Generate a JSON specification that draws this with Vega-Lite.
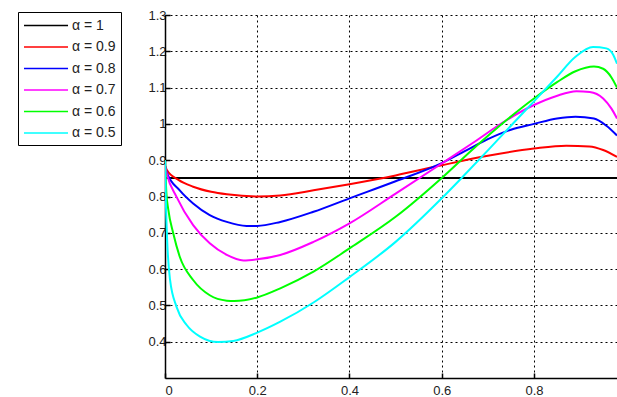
{
  "$schema": "https://vega.github.io/schema/vega-lite/v6.json",
  "width": 452,
  "height": 363,
  "autosize": {"type": "none"},
  "padding": {"left": 165, "top": 15, "right": 0, "bottom": 19},
  "background": "white",
  "config": {
    "view": {"stroke": null},
    "axis": {
      "grid": true,
      "gridColor": "#000000",
      "gridDash": [2, 3],
      "gridOpacity": 1,
      "gridWidth": 1,
      "domainColor": "#000000",
      "domainWidth": 1.5,
      "tickColor": "#000000",
      "tickSize": -5,
      "tickWidth": 1.5,
      "labelFont": "Liberation Sans",
      "labelFontSize": 13,
      "labelColor": "#222222",
      "title": null
    }
  },
  "data": {
    "values": [
      {"s": "α = 1", "x": 0, "y": 0.851},
      {"s": "α = 1", "x": 0.98, "y": 0.851},

      {"s": "α = 0.9", "x": 0, "y": 0.885},
      {"s": "α = 0.9", "x": 0.004, "y": 0.873},
      {"s": "α = 0.9", "x": 0.03, "y": 0.845},
      {"s": "α = 0.9", "x": 0.061, "y": 0.827},
      {"s": "α = 0.9", "x": 0.1, "y": 0.813},
      {"s": "α = 0.9", "x": 0.134, "y": 0.806},
      {"s": "α = 0.9", "x": 0.2, "y": 0.800},
      {"s": "α = 0.9", "x": 0.25, "y": 0.803},
      {"s": "α = 0.9", "x": 0.322, "y": 0.817},
      {"s": "α = 0.9", "x": 0.4, "y": 0.834},
      {"s": "α = 0.9", "x": 0.5, "y": 0.858},
      {"s": "α = 0.9", "x": 0.6, "y": 0.886},
      {"s": "α = 0.9", "x": 0.7, "y": 0.912},
      {"s": "α = 0.9", "x": 0.8, "y": 0.932},
      {"s": "α = 0.9", "x": 0.87, "y": 0.940},
      {"s": "α = 0.9", "x": 0.92, "y": 0.938},
      {"s": "α = 0.9", "x": 0.95, "y": 0.928},
      {"s": "α = 0.9", "x": 0.98, "y": 0.909},

      {"s": "α = 0.8", "x": 0, "y": 0.885},
      {"s": "α = 0.8", "x": 0.004, "y": 0.866},
      {"s": "α = 0.8", "x": 0.032, "y": 0.817},
      {"s": "α = 0.8", "x": 0.061, "y": 0.781},
      {"s": "α = 0.8", "x": 0.097, "y": 0.749},
      {"s": "α = 0.8", "x": 0.134, "y": 0.730},
      {"s": "α = 0.8", "x": 0.177, "y": 0.719},
      {"s": "α = 0.8", "x": 0.2, "y": 0.719},
      {"s": "α = 0.8", "x": 0.25, "y": 0.730},
      {"s": "α = 0.8", "x": 0.322, "y": 0.758},
      {"s": "α = 0.8", "x": 0.4, "y": 0.795},
      {"s": "α = 0.8", "x": 0.5, "y": 0.842},
      {"s": "α = 0.8", "x": 0.6, "y": 0.892},
      {"s": "α = 0.8", "x": 0.65, "y": 0.925},
      {"s": "α = 0.8", "x": 0.7, "y": 0.958},
      {"s": "α = 0.8", "x": 0.75, "y": 0.984},
      {"s": "α = 0.8", "x": 0.8, "y": 1.000},
      {"s": "α = 0.8", "x": 0.85, "y": 1.015},
      {"s": "α = 0.8", "x": 0.89, "y": 1.020},
      {"s": "α = 0.8", "x": 0.93, "y": 1.015},
      {"s": "α = 0.8", "x": 0.957, "y": 0.995},
      {"s": "α = 0.8", "x": 0.98, "y": 0.968},

      {"s": "α = 0.7", "x": 0, "y": 0.885},
      {"s": "α = 0.7", "x": 0.004, "y": 0.862},
      {"s": "α = 0.7", "x": 0.025, "y": 0.799},
      {"s": "α = 0.7", "x": 0.061, "y": 0.721},
      {"s": "α = 0.7", "x": 0.097, "y": 0.671},
      {"s": "α = 0.7", "x": 0.134, "y": 0.639},
      {"s": "α = 0.7", "x": 0.17, "y": 0.624},
      {"s": "α = 0.7", "x": 0.2, "y": 0.627},
      {"s": "α = 0.7", "x": 0.25, "y": 0.639},
      {"s": "α = 0.7", "x": 0.322, "y": 0.675},
      {"s": "α = 0.7", "x": 0.4, "y": 0.726},
      {"s": "α = 0.7", "x": 0.5, "y": 0.808},
      {"s": "α = 0.7", "x": 0.6, "y": 0.891},
      {"s": "α = 0.7", "x": 0.668, "y": 0.948},
      {"s": "α = 0.7", "x": 0.74, "y": 1.010},
      {"s": "α = 0.7", "x": 0.8, "y": 1.052},
      {"s": "α = 0.7", "x": 0.849, "y": 1.077},
      {"s": "α = 0.7", "x": 0.892, "y": 1.090},
      {"s": "α = 0.7", "x": 0.921, "y": 1.088},
      {"s": "α = 0.7", "x": 0.95, "y": 1.070},
      {"s": "α = 0.7", "x": 0.968, "y": 1.042},
      {"s": "α = 0.7", "x": 0.98, "y": 1.015},

      {"s": "α = 0.6", "x": 0, "y": 0.9},
      {"s": "α = 0.6", "x": 0.003, "y": 0.81},
      {"s": "α = 0.6", "x": 0.007, "y": 0.765},
      {"s": "α = 0.6", "x": 0.018, "y": 0.698},
      {"s": "α = 0.6", "x": 0.032, "y": 0.634},
      {"s": "α = 0.6", "x": 0.061, "y": 0.570},
      {"s": "α = 0.6", "x": 0.097, "y": 0.528},
      {"s": "α = 0.6", "x": 0.134, "y": 0.513},
      {"s": "α = 0.6", "x": 0.15, "y": 0.512},
      {"s": "α = 0.6", "x": 0.2, "y": 0.522},
      {"s": "α = 0.6", "x": 0.25, "y": 0.547},
      {"s": "α = 0.6", "x": 0.322, "y": 0.593},
      {"s": "α = 0.6", "x": 0.4, "y": 0.657},
      {"s": "α = 0.6", "x": 0.5, "y": 0.744},
      {"s": "α = 0.6", "x": 0.6, "y": 0.851},
      {"s": "α = 0.6", "x": 0.668, "y": 0.931},
      {"s": "α = 0.6", "x": 0.74, "y": 1.010},
      {"s": "α = 0.6", "x": 0.8, "y": 1.070},
      {"s": "α = 0.6", "x": 0.85, "y": 1.115},
      {"s": "α = 0.6", "x": 0.89, "y": 1.145},
      {"s": "α = 0.6", "x": 0.93, "y": 1.158},
      {"s": "α = 0.6", "x": 0.95, "y": 1.152},
      {"s": "α = 0.6", "x": 0.968, "y": 1.128},
      {"s": "α = 0.6", "x": 0.98, "y": 1.100},

      {"s": "α = 0.5", "x": 0, "y": 0.9},
      {"s": "α = 0.5", "x": 0.002, "y": 0.78},
      {"s": "α = 0.5", "x": 0.005, "y": 0.67},
      {"s": "α = 0.5", "x": 0.011, "y": 0.57},
      {"s": "α = 0.5", "x": 0.025, "y": 0.496},
      {"s": "α = 0.5", "x": 0.047, "y": 0.446},
      {"s": "α = 0.5", "x": 0.076, "y": 0.414},
      {"s": "α = 0.5", "x": 0.115, "y": 0.399},
      {"s": "α = 0.5", "x": 0.148, "y": 0.402},
      {"s": "α = 0.5", "x": 0.2, "y": 0.425},
      {"s": "α = 0.5", "x": 0.25, "y": 0.455},
      {"s": "α = 0.5", "x": 0.322, "y": 0.508},
      {"s": "α = 0.5", "x": 0.4, "y": 0.578},
      {"s": "α = 0.5", "x": 0.5, "y": 0.675},
      {"s": "α = 0.5", "x": 0.6, "y": 0.795},
      {"s": "α = 0.5", "x": 0.643, "y": 0.851},
      {"s": "α = 0.5", "x": 0.7, "y": 0.927},
      {"s": "α = 0.5", "x": 0.75, "y": 0.995},
      {"s": "α = 0.5", "x": 0.8, "y": 1.062},
      {"s": "α = 0.5", "x": 0.85, "y": 1.130},
      {"s": "α = 0.5", "x": 0.89, "y": 1.185},
      {"s": "α = 0.5", "x": 0.928, "y": 1.212},
      {"s": "α = 0.5", "x": 0.957, "y": 1.208},
      {"s": "α = 0.5", "x": 0.972, "y": 1.190},
      {"s": "α = 0.5", "x": 0.98, "y": 1.166}
    ]
  },
  "mark": {"type": "line", "interpolate": "monotone", "strokeWidth": 2, "clip": true},
  "encoding": {
    "x": {
      "field": "x", "type": "quantitative",
      "scale": {"domain": [0, 0.98], "nice": false, "zero": false},
      "axis": {"values": [0, 0.2, 0.4, 0.6, 0.8], "format": "~g", "labelPadding": 11}
    },
    "y": {
      "field": "y", "type": "quantitative",
      "scale": {"domain": [0.3, 1.3], "nice": false, "zero": false},
      "axis": {"values": [0.4, 0.5, 0.6, 0.7, 0.8, 0.9, 1, 1.1, 1.2, 1.3], "format": "~g", "labelPadding": 4}
    },
    "color": {
      "field": "s", "type": "nominal",
      "scale": {
        "domain": ["α = 1", "α = 0.9", "α = 0.8", "α = 0.7", "α = 0.6", "α = 0.5"],
        "range": ["#000000", "#ff0000", "#0000ff", "#ff00ff", "#00ff00", "#00ffff"]
      },
      "legend": {
        "title": null,
        "orient": "none",
        "legendX": -147,
        "legendY": -3,
        "strokeColor": "#000000",
        "fillColor": "#ffffff",
        "padding": 5,
        "symbolType": "M-1,0H4.87",
        "symbolSize": 225,
        "symbolStrokeWidth": 1.5,
        "symbolFillColor": "transparent",
        "labelFont": "Liberation Sans",
        "labelFontSize": 14,
        "labelColor": "#222222",
        "labelOffset": 32,
        "rowPadding": 5.5
      }
    }
  }
}
